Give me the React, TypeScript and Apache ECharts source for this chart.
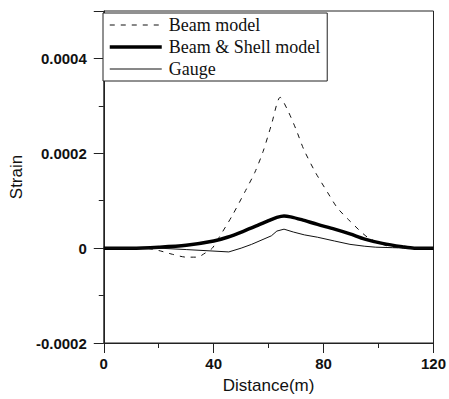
import React, { useEffect, useRef } from "react";
import * as echarts from "echarts";

const seriesNames = ["Beam model", "Beam & Shell model", "Gauge"];

const beamDist = [0, 10, 15, 20, 25, 30, 34, 37, 39.5, 42, 46.6, 51.3, 55, 58, 61, 64.2, 67, 70, 72.8, 77, 81.4, 85, 89.6, 96, 103, 110, 120];
const beamStrain = [0, 0, 0, -0.000005, -0.000013, -0.000019, -0.000019, -0.00001, 0, 0.000023, 0.000067, 0.000118, 0.00016, 0.000204, 0.00026, 0.000318, 0.00029, 0.00025, 0.000208, 0.00016, 0.000118, 0.000085, 0.000057, 0.000023, 0.000005, 0, 0];

const shellDist = [0, 10, 20, 30, 40, 45, 51, 56, 60, 63, 65.6, 68, 72, 77.8, 84, 89.6, 95, 101.4, 108.6, 113, 120];
const shellStrain = [0, 0, 0.000002, 0.000006, 0.000015, 0.000023, 0.000036, 0.000048, 0.000058, 0.000065, 0.000068, 0.000066, 0.00006, 0.00005, 0.00004, 0.00003, 0.000019, 0.00001, 0.000003, 0, 0];

const gaugeDist = [0, 20, 30, 39.4, 45.5, 50, 53.8, 61, 63, 65.6, 69, 73, 77.8, 84, 89.6, 95, 99, 105, 112, 120];
const gaugeStrain = [0, 0, -0.000003, -0.000006, -0.000008, 0, 0.000008, 0.000026, 0.000036, 0.00004, 0.000034, 0.000028, 0.000023, 0.000015, 0.000008, 0.000004, 0.000002, 0.000001, 0, 0];

const xTicks = { min: 0, max: 120, interval: 40 };
const yTicks = { min: -0.0002, max: 0.0005, interval: 0.0002 };

const zip = (a: number[], b: number[]) => a.map((v, i) => [v, b[i]]);

export default function App() {
  const ref = useRef<HTMLDivElement>(null);
  useEffect(() => {
    if (!ref.current) return;
    const chart = echarts.init(ref.current, null, { renderer: "svg" });
    const labelFont = { fontFamily: "Liberation Sans", fontSize: 15, fontWeight: "bold" as const, color: "#111" };
    const nameFont = { fontFamily: "Liberation Sans", fontSize: 17, color: "#111" };
    chart.setOption({
      animation: false,
      backgroundColor: "#fff",
      grid: { left: 100, right: 14, top: 11, bottom: 55, show: true, borderColor: "#222", borderWidth: 1 },
      legend: {
        left: 103,
        top: 13,
        orient: "vertical",
        padding: [3, 7, 3, 5],
        itemGap: 4,
        itemWidth: 52,
        itemHeight: 16,
        borderColor: "#222",
        borderWidth: 1,
        backgroundColor: "#fff",
        itemStyle: { opacity: 0 },
        lineStyle: { width: "inherit" },
        textStyle: { fontFamily: "Liberation Serif", fontSize: 18, color: "#111", padding: [0, 0, 0, 2] },
        data: seriesNames,
      },
      xAxis: {
        type: "value",
        min: xTicks.min,
        max: xTicks.max,
        interval: xTicks.interval,
        name: "Distance(m)",
        nameLocation: "middle",
        nameGap: 34,
        nameTextStyle: nameFont,
        axisLine: { onZero: false, lineStyle: { color: "#222", width: 1 } },
        axisTick: { inside: false, length: 10, lineStyle: { color: "#222" } },
        minorTick: { show: true, splitNumber: 2, length: 5, lineStyle: { color: "#222" } },
        splitLine: { show: false },
        axisLabel: { ...labelFont, margin: 13 },
      },
      yAxis: {
        type: "value",
        min: yTicks.min,
        max: yTicks.max,
        interval: yTicks.interval,
        name: "Strain",
        nameLocation: "middle",
        nameGap: 72,
        nameTextStyle: nameFont,
        axisLine: { onZero: false, lineStyle: { color: "#222", width: 1 } },
        axisTick: { inside: false, length: 10, lineStyle: { color: "#222" } },
        minorTick: { show: true, splitNumber: 2, length: 5, lineStyle: { color: "#222" } },
        splitLine: { show: false },
        axisLabel: {
          ...labelFont,
          margin: 17,
          showMaxLabel: false,
          formatter: (v: number) => (Math.abs(v) < 1e-10 ? "0" : v.toFixed(4)),
        },
      },
      series: [
        {
          name: seriesNames[0],
          type: "line",
          data: zip(beamDist, beamStrain),
          smooth: 0.25,
          symbol: "none",
          lineStyle: { color: "#111", width: 1, type: [5, 6] },
          itemStyle: { color: "#111" },
        },
        {
          name: seriesNames[1],
          type: "line",
          data: zip(shellDist, shellStrain),
          smooth: 0.3,
          symbol: "none",
          lineStyle: { color: "#000", width: 3.5 },
          itemStyle: { color: "#000" },
        },
        {
          name: seriesNames[2],
          type: "line",
          data: zip(gaugeDist, gaugeStrain),
          smooth: false,
          symbol: "none",
          lineStyle: { color: "#111", width: 1 },
          itemStyle: { color: "#111" },
        },
      ],
    });
    return () => chart.dispose();
  }, []);
  return <div ref={ref} style={{ position: "absolute", left: 0, top: 0, width: 449, height: 399 }} />;
}
